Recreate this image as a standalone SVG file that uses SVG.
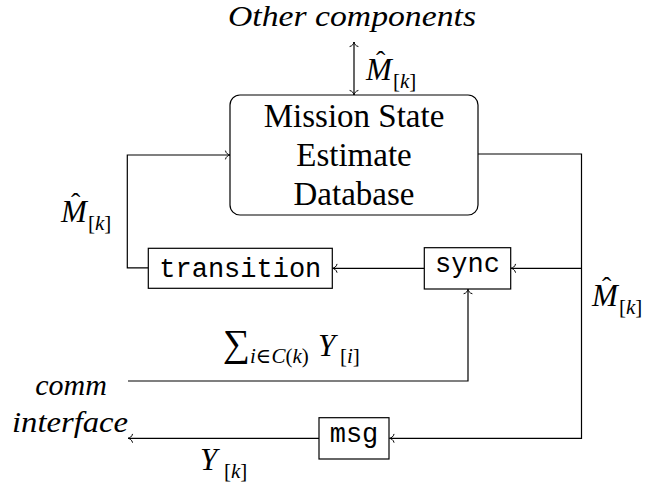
<svg xmlns="http://www.w3.org/2000/svg" width="646" height="487" viewBox="0 0 646 487">
  <defs>
    <style>
      .box { fill: #fff; stroke: #000; stroke-width: 1.2; }
      .wire { fill: none; stroke: #000; stroke-width: 1.2; }
      .arrow { marker-end: url(#to); }
      .rm { font-size: 33px; fill: #000; text-anchor: middle; }
      .tt { font-family: "Liberation Mono", "Courier New", monospace; font-size: 27px; fill: #000; text-anchor: middle; }
      .it { font-style: italic; font-size: 30px; fill: #000; }
      .mi { font-style: italic; font-size: 31px; fill: #000; }
      .sub { font-style: normal; font-size: 21px; }
      .subi { font-style: italic; }
      .hat { font-style: normal; font-size: 28px; }
    </style>
    <marker id="to" viewBox="-6 -5 8 10" refX="0" refY="0" markerWidth="8" markerHeight="10"
            markerUnits="userSpaceOnUse" orient="auto-start-reverse">
      <path d="M-4.5,-4 C-4,-1.5 -1.5,-0.3 0,0 C-1.5,0.3 -4,1.5 -4.5,4"
            fill="none" stroke="#000" stroke-width="1" stroke-linecap="round"/>
    </marker>
  </defs>

  <rect width="646" height="487" fill="#fff"/>

  <!-- connectors -->
  <g id="connectors">
    <!-- exchange with other components -->
    <line class="wire" x1="354" y1="42" x2="354" y2="95" marker-start="url(#to)" marker-end="url(#to)"/>
    <!-- database out to msg -->
    <path class="wire arrow" d="M478,154 H581.5 V438.3 H389.5"/>
    <!-- branch into sync -->
    <path class="wire arrow" d="M581.5,268.3 H511"/>
    <!-- sync to transition -->
    <path class="wire arrow" d="M424.3,268.3 H332.5"/>
    <!-- transition back to database -->
    <path class="wire arrow" d="M148.3,267.8 H127.3 V155 H230"/>
    <!-- comm interface into sync -->
    <path class="wire arrow" d="M128,381 H468 V289.2"/>
    <!-- msg out to comm interface -->
    <path class="wire arrow" d="M319,438.3 H128"/>
  </g>

  <g font-family="'Liberation Serif', 'DejaVu Serif', 'Noto Serif', Times, serif">
    <!-- nodes -->
    <g id="database">
      <rect class="box" x="230" y="95" width="248" height="120" rx="10" ry="10"/>
      <text class="rm" x="354" y="127">Mission State</text>
      <text class="rm" x="354" y="166">Estimate</text>
      <text class="rm" x="354" y="205">Database</text>
    </g>

    <g id="other-components">
      <text class="it" x="352" y="26" text-anchor="middle" textLength="248" lengthAdjust="spacingAndGlyphs">Other components</text>
    </g>

    <g id="comm-interface">
      <text class="it" x="71" y="395" text-anchor="middle">comm</text>
      <text class="it" x="70" y="431.5" text-anchor="middle" textLength="116" lengthAdjust="spacingAndGlyphs">interface</text>
    </g>

    <!-- edge labels: hatted estimate M[k] -->
    <g id="label-top">
      <text class="mi" x="366" y="80">M<tspan class="hat" x="376" y="70">ˆ</tspan><tspan class="sub" x="393" y="88">[<tspan class="subi">k</tspan>]</tspan></text>
    </g>

    <g id="label-left">
      <text class="mi" x="61" y="222">M<tspan class="hat" x="71" y="212">ˆ</tspan><tspan class="sub" x="88" y="230">[<tspan class="subi">k</tspan>]</tspan></text>
    </g>

    <g id="label-right">
      <text class="mi" x="592" y="306">M<tspan class="hat" x="602" y="296">ˆ</tspan><tspan class="sub" x="619" y="314">[<tspan class="subi">k</tspan>]</tspan></text>
    </g>

    <!-- summed incoming messages -->
    <g id="label-sum">
      <text class="mi" x="223" y="356"><tspan font-style="normal" font-size="38">∑</tspan><tspan class="sub" x="250" y="363" font-size="23"><tspan class="subi">i</tspan>∈<tspan class="subi">C</tspan>(<tspan class="subi">k</tspan>)</tspan><tspan x="318" y="356">Y</tspan><tspan class="sub" x="340" y="363">[<tspan class="subi">i</tspan>]</tspan></text>
    </g>

    <g id="label-yk">
      <text class="mi" x="200" y="470">Y<tspan class="sub" x="224" y="478">[<tspan class="subi">k</tspan>]</tspan></text>
    </g>
  </g>

  <g id="transition">
    <rect class="box" x="148.3" y="248.3" width="184" height="40"/>
    <text class="tt" x="240.3" y="276.5">transition</text>
  </g>

  <g id="sync">
    <rect class="box" x="424.3" y="247.7" width="86.4" height="41.3"/>
    <text class="tt" x="467.5" y="272">sync</text>
  </g>

  <g id="msg">
    <rect class="box" x="319" y="417.7" width="70" height="41.3"/>
    <text class="tt" x="354" y="442">msg</text>
  </g>
</svg>
